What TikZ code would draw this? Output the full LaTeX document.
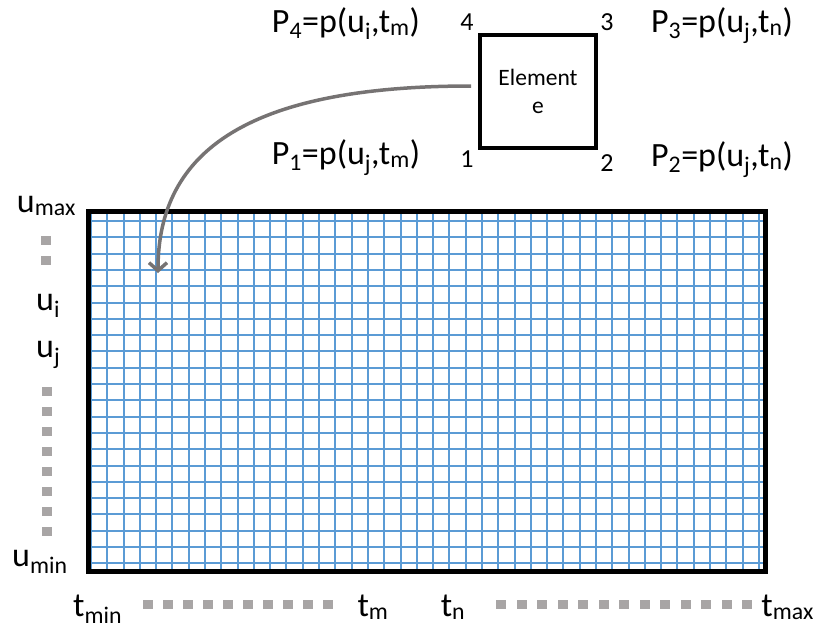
\documentclass[tikz,border=0pt]{standalone}
\usepackage{fontspec}
\setmainfont{Carlito}
\usetikzlibrary{arrows.meta,calc}
\definecolor{gridblue}{RGB}{91,155,213}
\definecolor{dotgray}{RGB}{168,165,165}
\definecolor{arcgray}{RGB}{118,115,115}
\tikzset{
  lbl/.style={font=\fontsize{34}{40}\selectfont, inner sep=0pt},
  num/.style={font=\fontsize{26}{30}\selectfont, inner sep=0pt},
  elembox/.style={draw, line width=4pt, minimum width=116pt, minimum height=113pt,
                  align=center, font=\fontsize{23.5}{28}\selectfont},
  frame/.style={draw, line width=5pt},
  gridline/.style={gridblue, line width=2pt},
  dotsq/.style={fill=dotgray},
  arc/.style={arcgray, line width=3.5pt, -{Straight Barb[length=8pt,width=18pt]}},
}
\newcommand{\sub}[1]{\textsubscript{#1}}

\begin{document}
\begin{tikzpicture}[x=1pt,y=-1pt]
  \useasboundingbox (0,0) rectangle (814,632);

  % Element e and its corners
  \node[elembox] (elem) at (538,91.5) {Element\\e};
  \node[num] (c4) at (467,22) {4};
  \node[num] (c3) at (607,22) {3};
  \node[num] (c1) at (467,159) {1};
  \node[num] (c2) at (607,163) {2};

  \node[lbl, anchor=base] (p4) at (346,32) {P\sub{4}=p(u\sub{i},t\sub{m})};
  \node[lbl, anchor=base] (p3) at (722,32) {P\sub{3}=p(u\sub{j},t\sub{n})};
  \node[lbl, anchor=base] (p1) at (346,164) {P\sub{1}=p(u\sub{j},t\sub{m})};
  \node[lbl, anchor=base] (p2) at (722,166) {P\sub{2}=p(u\sub{j},t\sub{n})};

  % Mesh
  \begin{scope}
    \clip (88,211) rectangle (765,571);
    \foreach \k in {0,...,41}
      \draw[gridline] (91+16.29*\k,211) -- (91+16.29*\k,571);
    \foreach \k in {0,...,21}
      \draw[gridline] (88,221+16.3*\k) -- (765,221+16.3*\k);
  \end{scope}
  \draw[frame] (88,211) rectangle (765,571);

  % u axis
  \node[lbl, anchor=base east] (umax) at (76,212) {u\sub{max}};
  \node[lbl, anchor=base west] (ui) at (36,310) {u\sub{i}};
  \node[lbl, anchor=base west] (uj) at (36,357) {u\sub{j}};
  \node[lbl, anchor=base west] (umin) at (12,566) {u\sub{min}};
  \foreach \y in {240,260}
    \fill[dotsq] (41,\y-4.5) rectangle ++(10,9);
  \foreach \k in {0,...,7}
    \fill[dotsq] (42,391+20*\k-4.5) rectangle ++(10,9);

  % t axis
  \node[lbl, anchor=base west] (tmin) at (73,616) {t\sub{min}};
  \node[lbl, anchor=base] (tm) at (373,616) {t\sub{m}};
  \node[lbl, anchor=base] (tn) at (453,616) {t\sub{n}};
  \node[lbl, anchor=base east] (tmax) at (814,616) {t\sub{max}};
  \foreach \k in {0,...,9}
    \fill[dotsq] (143+20*\k,600) rectangle ++(10,9);
  \foreach \k in {0,...,12}
    \fill[dotsq] (496+20.5*\k,600) rectangle ++(10,9);

  % element -> mesh cell
  \coordinate (cell) at (158,273);
  \draw[arc, shorten <=7pt] ([yshift=5.5pt]elem.west) .. controls (250,86) and (158,150) .. (cell);
\end{tikzpicture}
\end{document}
